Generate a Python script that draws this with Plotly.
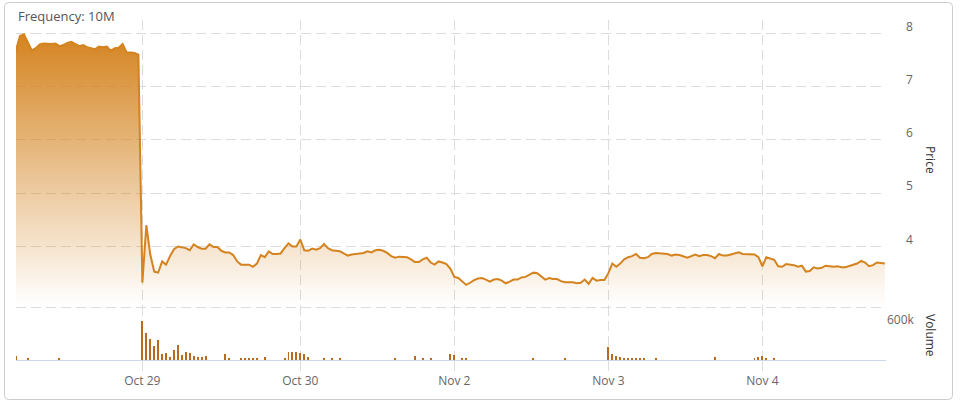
import plotly.graph_objects as go

# ---- data (10-minute bars, trading days only) ----
days = ["Oct 28", "Oct 29", "Oct 30", "Nov 2", "Nov 3", "Nov 4"]

price_oct28 = [7.68, 7.95, 7.98, 7.82, 7.68, 7.72, 7.79, 7.81, 7.80, 7.80, 7.81, 7.76,
               7.78, 7.82, 7.84, 7.80, 7.76, 7.78, 7.74, 7.72, 7.70, 7.75, 7.74, 7.75,
               7.67, 7.72, 7.73, 7.80, 7.64, 7.64, 7.63, 7.60]
price_oct29 = [3.32, 4.40, 3.85, 3.53, 3.51, 3.72, 3.66, 3.82, 3.95, 4.00, 3.99, 3.97,
               3.93, 4.04, 3.99, 3.96, 3.96, 4.04, 3.99, 3.99, 3.92, 3.89, 3.89, 3.84,
               3.72, 3.66, 3.66, 3.66, 3.62, 3.68, 3.84, 3.80, 3.91, 3.86, 3.86, 3.87,
               3.97, 4.06, 4.00, 4.00]
price_oct30 = [4.13, 3.93, 3.92, 3.96, 3.94, 3.97, 4.05, 3.97, 3.93, 3.92, 3.91, 3.87,
               3.83, 3.85, 3.86, 3.86, 3.88, 3.91, 3.89, 3.93, 3.94, 3.92, 3.88, 3.82,
               3.79, 3.81, 3.81, 3.80, 3.76, 3.71, 3.71, 3.76, 3.79, 3.70, 3.66, 3.72,
               3.70, 3.67, 3.58]
price_nov2 = [3.43, 3.41, 3.35, 3.28, 3.32, 3.37, 3.40, 3.41, 3.38, 3.34, 3.38, 3.39,
              3.36, 3.31, 3.34, 3.38, 3.38, 3.42, 3.43, 3.47, 3.51, 3.50, 3.44, 3.38,
              3.41, 3.39, 3.39, 3.35, 3.33, 3.33, 3.33, 3.31, 3.32, 3.38, 3.30, 3.41,
              3.36, 3.37, 3.37]
price_nov3 = [3.50, 3.68, 3.62, 3.68, 3.76, 3.80, 3.82, 3.86, 3.79, 3.78, 3.80, 3.86,
              3.88, 3.87, 3.86, 3.86, 3.83, 3.85, 3.84, 3.82, 3.79, 3.82, 3.85, 3.82,
              3.84, 3.84, 3.82, 3.78, 3.86, 3.83, 3.83, 3.85, 3.87, 3.89, 3.86, 3.86,
              3.86, 3.85, 3.80]
price_nov4 = [3.63, 3.80, 3.78, 3.75, 3.63, 3.62, 3.67, 3.66, 3.65, 3.62, 3.64, 3.53,
              3.54, 3.61, 3.59, 3.60, 3.64, 3.63, 3.62, 3.63, 3.61, 3.61, 3.63, 3.65,
              3.68, 3.73, 3.70, 3.63, 3.65, 3.70, 3.69, 3.68]

# volume in thousands
vol_oct28 = [46, 0, 0, 20, 0, 0, 0, 0, 0, 0, 0, 20, 0, 0, 0, 0,
             0, 0, 0, 0, 0, 0, 0, 0, 0, 0, 0, 0, 0, 0, 0, 0]
vol_oct29 = [450, 312, 242, 162, 231, 69, 81, 35, 115, 173, 58, 92, 81, 46, 35, 35,
             46, 0, 0, 0, 0, 69, 23, 0, 0, 23, 23, 23, 23, 23, 0, 35,
             0, 0, 0, 0, 23, 89, 96, 89]
vol_oct30 = [77, 69, 31, 0, 0, 0, 23, 0, 20, 0, 23, 0, 0, 0, 0, 0,
             0, 0, 0, 0, 0, 0, 0, 0, 20, 0, 0, 0, 0, 46, 0, 23,
             0, 20, 0, 0, 0, 0, 69]
vol_nov2 = [58, 0, 23, 23, 0, 0, 0, 0, 0, 0, 0, 0, 0, 0, 0, 0,
            0, 0, 0, 0, 20, 0, 0, 0, 0, 0, 0, 0, 20, 0, 0, 0,
            0, 0, 0, 0, 0, 0, 0]
vol_nov3 = [154, 69, 46, 35, 23, 23, 23, 23, 23, 23, 0, 0, 23, 0, 0, 0,
            0, 0, 0, 0, 0, 0, 0, 0, 0, 0, 0, 35, 0, 0, 0, 0,
            0, 0, 0, 0, 0, 20, 35]
vol_nov4 = [46, 23, 0, 20, 0, 0, 0, 0, 0, 0, 0, 0, 0, 0, 0, 0,
            0, 0, 0, 0, 0, 0, 0, 0, 0, 0, 0, 0, 0, 0, 0, 0]

price_days = [price_oct28, price_oct29, price_oct30, price_nov2, price_nov3, price_nov4]
vol_days = [vol_oct28, vol_oct29, vol_oct30, vol_nov2, vol_nov3, vol_nov4]

price = [p for d in price_days for p in d]
volume = [v * 1000 for d in vol_days for v in d]
x = list(range(len(price)))

# tick at the first bar of each full day
tick_pos, tick_txt, start = [], [], 0
for name, d in zip(days, price_days):
    if start > 0:
        tick_pos.append(start)
        tick_txt.append(name)
    start += len(d)

# ---- layout geometry ----
W, H = 961, 406
L, R, T, B = 16, 75, 20, 46
pw, ph = W - L - R, H - T - B
split_px = 306  # boundary between price and volume panes
vol_dom = (360 - split_px) / ph
p_lo, p_hi = 2.884, 8.25

line_col = "#d4831f"
bar_col = "#b86b1e"
grid_col = "#dcdcdc"
dash = "10px,5px"

def px_x(v):
    return (v - L) / pw

def px_y(v):
    return (H - B - v) / ph

fig = go.Figure()
fig.add_trace(go.Scatter(
    x=x, y=price, mode="lines", yaxis="y",
    line=dict(color=line_col, width=2),
    fill="tozeroy",
    fillgradient=dict(type="vertical",
                      colorscale=[[0, "rgba(212,131,31,0)"], [1, "rgba(212,131,31,1)"]],
                      start=p_lo, stop=8.0),
    hoverinfo="skip", showlegend=False,
))
fig.add_trace(go.Bar(
    x=x, y=volume, yaxis="y2", width=0.5,
    marker=dict(color=bar_col, line=dict(width=0)),
    hoverinfo="skip", showlegend=False,
))

# rounded outer frame
x0, x1 = px_x(4.5), px_x(952.5)
y0, y1 = px_y(399.5), px_y(2.5)
rx, ry = 4 / pw, 4 / ph
frame = (f"M{x0+rx},{y1} L{x1-rx},{y1} Q{x1},{y1} {x1},{y1-ry} "
         f"L{x1},{y0+ry} Q{x1},{y0} {x1-rx},{y0} L{x0+rx},{y0} "
         f"Q{x0},{y0} {x0},{y0+ry} L{x0},{y1-ry} Q{x0},{y1} {x0+rx},{y1} Z")

font_fam = "Open Sans, Arial, sans-serif"
fig.update_layout(
    width=W, height=H,
    margin=dict(l=L, r=R, t=T, b=B, pad=0, autoexpand=False),
    paper_bgcolor="white", plot_bgcolor="white",
    font=dict(family=font_fam, color="#666666", size=12),
    bargap=0,
    xaxis=dict(
        range=[0, 220.3], anchor="y2", automargin=False,
        tickvals=tick_pos, ticktext=tick_txt,
        showgrid=True, gridcolor=grid_col, griddash=dash, gridwidth=1,
        showline=True, linecolor="#ccd6eb", linewidth=1,
        ticks="outside", ticklen=10, tickcolor=grid_col,
        tickfont=dict(size=12, color="#666666"),
        zeroline=False, fixedrange=True,
    ),
    yaxis=dict(
        domain=[vol_dom, 1], range=[p_lo, p_hi], side="right", anchor="x",
        automargin=False,
        tickvals=[4, 5, 6, 7, 8],
        showgrid=True, gridcolor=grid_col, griddash=dash, gridwidth=1,
        zeroline=False, showline=False, ticks="",
        ticklabelshift=-7, ticklabelstandoff=19,
        tickfont=dict(size=12, color="#666666"),
    ),
    yaxis2=dict(
        domain=[0, vol_dom], range=[0, 623000], side="right", anchor="x",
        automargin=False,
        tickvals=[600000], ticktext=["600k"],
        showgrid=True, gridcolor=grid_col, griddash=dash, gridwidth=1,
        zeroline=False, showline=False, ticks="",
        ticklabelshift=12, ticklabelstandoff=0,
        tickfont=dict(size=12, color="#666666"),
    ),
    shapes=[dict(type="path", xref="paper", yref="paper", path=frame,
                 line=dict(color="#cccccc", width=1), layer="below")],
    annotations=[
        dict(text="Frequency: 10M", xref="paper", yref="paper", x=0, y=px_y(16),
             xanchor="left", yanchor="middle", showarrow=False,
             font=dict(size=13, color="#555555", family=font_fam)),
        dict(text="Price", xref="paper", yref="paper", x=px_x(931), y=px_y(160),
             xanchor="center", yanchor="middle", textangle=90, showarrow=False,
             font=dict(size=12, color="#333333", family=font_fam)),
        dict(text="Volume", xref="paper", yref="paper", x=px_x(931), y=px_y(335),
             xanchor="center", yanchor="middle", textangle=90, showarrow=False,
             font=dict(size=12, color="#333333", family=font_fam)),
    ],
)

fig.write_html("out.html",
               config={"displayModeBar": False, "staticPlot": True},
               post_script="document.body.style.margin='0';document.body.style.overflow='hidden';")
